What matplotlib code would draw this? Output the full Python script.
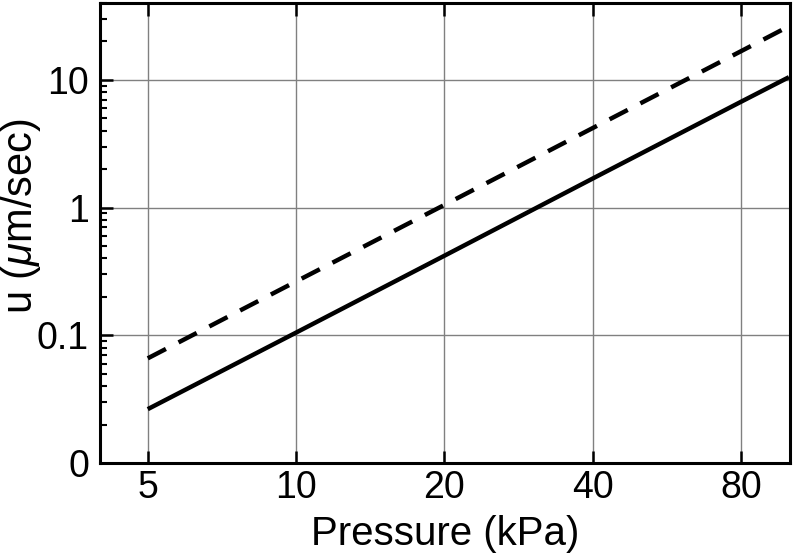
import numpy as np
import matplotlib
matplotlib.use("Agg")
import matplotlib.pyplot as plt
from matplotlib.ticker import FixedLocator, FixedFormatter, LogLocator, NullFormatter, NullLocator

# data (log-log)
pressure_kpa = [5, 10, 20, 40, 80, 100]
u_solid = [0.0264, 0.105, 0.42, 1.69, 6.75, 10.5]
u_dashed = [0.066, 0.264, 1.05, 4.2, 16.8, 26.3]

x_ticks = [5, 10, 20, 40, 80]
x_tick_labels = ["5", "10", "20", "40", "80"]
y_ticks = [0.01, 0.1, 1, 10]
y_tick_labels = ["0", "0.1", "1", "10"]

plt.rcParams["font.family"] = ["Liberation Sans", "DejaVu Sans"]
plt.rcParams["mathtext.fontset"] = "custom"
plt.rcParams["mathtext.it"] = "Liberation Sans:italic"
plt.rcParams["mathtext.rm"] = "Liberation Sans"

fig = plt.figure(figsize=(7.93, 5.59), dpi=100)
ax = fig.add_axes([100 / 793, 1 - 463 / 559, 690 / 793, 460 / 559])

ax.plot(pressure_kpa, u_solid, color="black", lw=3.2, solid_capstyle="butt")
ax.plot(pressure_kpa, u_dashed, color="black", lw=3.2, dashes=(4.6, 3.2),
        dash_capstyle="butt")

ax.set_xscale("log")
ax.set_yscale("log")
ax.set_xlim(4.0, 100.5)
ax.set_ylim(0.01, 40)

# x ticks: major only, inward on top and bottom
ax.xaxis.set_major_locator(FixedLocator(x_ticks))
ax.xaxis.set_major_formatter(FixedFormatter(x_tick_labels))
ax.xaxis.set_minor_locator(NullLocator())
ax.xaxis.set_minor_formatter(NullFormatter())

# y ticks: custom labels, minor ticks on the left
ax.yaxis.set_major_locator(FixedLocator(y_ticks))
ax.yaxis.set_major_formatter(FixedFormatter(y_tick_labels))
ax.yaxis.set_minor_locator(LogLocator(base=10, subs=np.arange(2, 10)))
ax.yaxis.set_minor_formatter(NullFormatter())

ax.tick_params(axis="x", which="major", direction="in", top=True, bottom=True,
               length=9, width=1.8, labelsize=27, pad=5)
ax.tick_params(axis="y", which="major", direction="in", left=True, right=False,
               length=9, width=1.8, labelsize=27, pad=8)
ax.tick_params(axis="y", which="minor", direction="in", left=True, right=False,
               length=5, width=1.5)

ax.grid(True, which="major", color="#808080", lw=1.0)
ax.set_axisbelow(True)

for side in ["left", "right", "top", "bottom"]:
    ax.spines[side].set_linewidth(2.2)

ax.set_xlabel("Pressure (kPa)", fontsize=29)
ax.xaxis.set_label_coords(0.5, -0.112)
ax.set_ylabel(r"u ($\mu$m/sec)", fontsize=30)
ax.yaxis.set_label_coords(-0.082, 0.537)

fig.savefig("out.png", dpi=100)
